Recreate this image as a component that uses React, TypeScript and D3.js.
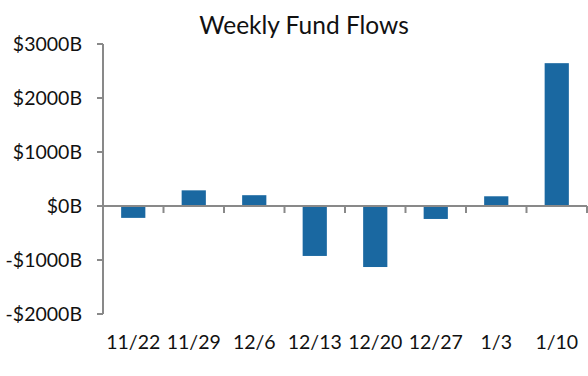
import React from "react";
import * as d3 from "d3";

const categories: string[] = ["11/22", "11/29", "12/6", "12/13", "12/20", "12/27", "1/3", "1/10"];
const flows: number[] = [-220, 290, 200, -925, -1130, -240, 180, 2645];
const yTicks: number[] = [3000, 2000, 1000, 0, -1000, -2000];
const title = "Weekly Fund Flows";

const W = 588;
const H = 376;
const left = 103;
const right = 587;
const top = 44;
const bottom = 314;
const FONT = "Lato, 'Open Sans', sans-serif";
const AXIS = "#898989";
const BAR = "#1a68a1";

export default function App() {
  const y = d3.scaleLinear().domain([-2000, 3000]).range([bottom, top]);
  const x = d3.scaleBand<string>().domain(categories).range([left, right]).paddingInner(0.6).paddingOuter(0.3);
  const xb = d3.scaleBand<string>().domain(categories).range([left, right]).padding(0);
  const fmt = (v: number) => (v < 0 ? "-$" + Math.abs(v) + "B" : "$" + v + "B");
  const y0 = y(0);
  return (
    <svg width={W} height={H} style={{ position: "absolute", left: 0, top: 0, background: "#fff" }}>
      <text x={304} y={34} textAnchor="middle" fontFamily={FONT} fontSize={24.5} fill="#111">
        {title}
      </text>
      {categories.map((c, i) => {
        const v = flows[i];
        const y1 = y(Math.max(0, v));
        const y2 = y(Math.min(0, v));
        return <rect key={c} x={x(c)} y={y1} width={x.bandwidth()} height={y2 - y1} fill={BAR} />;
      })}
      {/* y axis */}
      <line x1={left} x2={left} y1={y(3000)} y2={y(-2000)} stroke={AXIS} strokeWidth={2} />
      {yTicks.map((t) => (
        <g key={t}>
          <line x1={left - 6} x2={left} y1={y(t)} y2={y(t)} stroke={AXIS} strokeWidth={2} />
          <text x={82} y={y(t)} dy="0.36em" textAnchor="end" fontFamily={FONT} fontSize={19.5} fill="#111">
            {fmt(t)}
          </text>
        </g>
      ))}
      {/* zero line */}
      <line x1={left} x2={right} y1={y0} y2={y0} stroke={AXIS} strokeWidth={2} />
      {categories.map((c) => {
        const xe = (xb(c) as number) + xb.bandwidth();
        return <line key={"t" + c} x1={xe} x2={xe} y1={y0} y2={y0 + 7} stroke={AXIS} strokeWidth={2} />;
      })}
      {categories.map((c) => (
        <text
          key={"l" + c}
          x={(xb(c) as number) + xb.bandwidth() / 2}
          y={349}
          textAnchor="middle"
          fontFamily={FONT}
          fontSize={19.5}
          fill="#111"
        >
          {c}
        </text>
      ))}
    </svg>
  );
}
